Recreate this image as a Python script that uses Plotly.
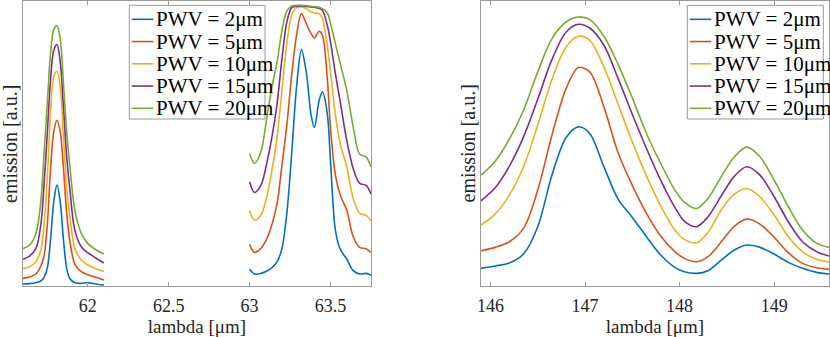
import plotly.graph_objects as go

# PWV cases and MATLAB default line colours
pwv = ["2", "5", "10", "15", "20"]
colors = ["#0072BD", "#D95319", "#EDB120", "#7E2F8E", "#77AC30"]

# left panel, first line (around 61.8 um)
lam_a = [61.60, 61.64, 61.68, 61.71, 61.73, 61.75, 61.77, 61.79, 61.81, 61.83,
         61.85, 61.87, 61.89, 61.92, 61.96, 62.00, 62.05, 62.10]
em_a = [
    [0.8, 0.9, 1.2, 1.7, 2.8, 5.5, 14.0, 25.5, 30.5, 25.5, 14.0, 5.5, 2.4, 1.2, 1.0, 1.2, 0.8, 0.5],
    [2.5, 2.9, 3.8, 6.2, 9.2, 18.5, 35.0, 46.5, 50.0, 46.5, 35.5, 22.0, 13.5, 6.8, 4.5, 3.6, 2.8, 2.0],
    [5.4, 6.0, 7.5, 11.0, 18.5, 32.5, 52.5, 63.0, 64.7, 60.0, 45.0, 29.5, 21.0, 11.5, 8.0, 6.5, 5.4, 4.6],
    [8.2, 9.2, 11.5, 18.5, 30.5, 46.0, 62.0, 71.0, 72.7, 67.5, 54.0, 39.0, 29.0, 17.0, 12.0, 10.2, 8.6, 7.1],
    [11.4, 12.5, 16.0, 25.5, 40.0, 55.0, 70.0, 77.2, 78.4, 74.5, 61.0, 46.5, 36.0, 23.0, 16.0, 13.0, 11.1, 9.8],
]

# left panel, second line (around 63.3 um)
lam_b = [63.00, 63.03, 63.07, 63.11, 63.14, 63.17, 63.20, 63.23, 63.26, 63.29,
         63.32, 63.35, 63.38, 63.40, 63.43, 63.45, 63.48, 63.50, 63.53, 63.56,
         63.60, 63.64, 63.68, 63.72, 63.75]
em_b = [
    [5.2, 3.8, 4.0, 4.8, 5.8, 7.5, 11.5, 22.0, 40.0, 60.0, 71.2, 64.5, 51.5, 47.8, 56.0,
     58.5, 52.0, 37.5, 17.0, 11.2, 8.3, 4.8, 3.8, 4.0, 3.5],
    [12.7, 10.3, 11.5, 14.8, 19.0, 25.0, 36.5, 48.5, 63.5, 75.5, 82.0, 79.0, 76.0, 74.7, 76.7,
     75.5, 62.5, 47.5, 33.5, 27.5, 23.0, 15.0, 11.8, 11.4, 10.2],
    [22.8, 20.0, 21.5, 27.8, 35.5, 45.0, 59.0, 73.0, 81.5, 83.8, 84.0, 83.5, 82.5, 82.2, 82.0,
     80.5, 72.5, 64.5, 51.5, 43.0, 36.0, 26.5, 22.0, 21.4, 19.8],
    [31.5, 28.3, 30.5, 38.0, 45.5, 55.0, 68.5, 79.5, 83.8, 84.2, 84.3, 84.2, 84.0, 83.9, 83.6,
     83.0, 78.5, 73.5, 64.0, 55.5, 44.0, 35.5, 31.0, 30.4, 27.8],
    [40.0, 37.0, 40.5, 52.0, 60.5, 67.5, 77.0, 82.8, 84.3, 84.5, 84.5, 84.4, 84.2, 84.1, 83.9,
     83.5, 82.2, 79.0, 73.0, 67.0, 59.0, 48.0, 39.8, 39.0, 36.0],
]

# right panel (146-149.6 um)
lam_c = [145.90, 146.05, 146.20, 146.35, 146.50, 146.65, 146.80, 146.93, 147.05, 147.20,
         147.35, 147.50, 147.65, 147.80, 147.95, 148.05, 148.18, 148.30, 148.45, 148.58,
         148.71, 148.85, 149.00, 149.15, 149.30, 149.45, 149.58]
em_c = [
    [5.5, 6.2, 7.1, 9.8, 18.0, 33.5, 44.8, 48.0, 46.0, 36.0, 26.3, 20.8, 15.0, 9.5, 5.8,
     4.5, 4.0, 4.8, 8.2, 11.0, 12.5, 11.8, 9.8, 7.3, 5.5, 4.3, 3.8],
    [10.8, 11.8, 13.5, 17.5, 29.0, 45.5, 59.5, 65.8, 64.5, 54.0, 40.2, 30.4, 22.0, 15.2, 10.5,
     8.5, 7.5, 9.0, 13.8, 18.2, 20.3, 18.8, 14.8, 10.2, 7.0, 5.7, 5.2],
    [18.5, 21.8, 27.5, 36.0, 48.5, 62.2, 72.0, 75.2, 74.0, 66.0, 54.8, 43.5, 33.3, 24.3, 17.0,
     14.2, 13.2, 16.3, 23.5, 27.8, 29.5, 27.0, 21.5, 15.0, 10.5, 8.2, 7.4],
    [25.8, 29.7, 36.2, 45.0, 56.3, 68.2, 76.5, 78.8, 77.7, 72.5, 62.5, 51.8, 41.5, 32.0, 23.8,
     19.7, 18.0, 21.0, 27.7, 33.2, 36.0, 33.5, 27.0, 19.5, 13.5, 10.5, 9.2],
    [33.5, 37.7, 44.3, 53.0, 64.5, 74.5, 79.5, 81.0, 80.2, 75.2, 66.7, 56.7, 46.0, 37.0, 29.0,
     25.4, 23.5, 26.5, 33.5, 39.0, 41.9, 39.0, 32.0, 24.0, 17.0, 13.0, 11.8],
]

W, H = 830, 337
FONT = "Liberation Serif, Times New Roman, DejaVu Serif, serif"
GRAY = "#9a9a9a"
TXT = "#262626"

fig = go.Figure()

for i in range(len(pwv)):
    fig.add_trace(go.Scatter(
        x=lam_a + [None] + lam_b,
        y=em_a[i] + [None] + em_b[i],
        mode="lines", name="PWV = " + pwv[i] + "μm", connectgaps=False, showlegend=False,
        line=dict(color=colors[i], width=1.6, shape="spline", smoothing=0.9),
        xaxis="x", yaxis="y",
    ))
for i in range(len(pwv)):
    fig.add_trace(go.Scatter(
        x=lam_c, y=em_c[i],
        mode="lines", name="PWV = " + pwv[i] + "μm", showlegend=False,
        line=dict(color=colors[i], width=1.6, shape="spline", smoothing=0.9),
        xaxis="x2", yaxis="y2",
    ))

xcommon = dict(showline=True, linecolor=GRAY, linewidth=1, mirror="ticks",
               ticks="inside", ticklen=4, tickcolor=GRAY, showgrid=False, zeroline=False,
               ticklabelstandoff=3, automargin=False,
               tickfont=dict(family=FONT, size=18, color=TXT),
               title=dict(text="lambda [μm]", font=dict(family=FONT, size=19, color=TXT), standoff=3))
ycommon = dict(showline=True, linecolor=GRAY, linewidth=1, mirror=True, automargin=False,
               ticks="", showticklabels=False, showgrid=False, zeroline=False,
               range=[0.2, 85.8], domain=[1 - 286 / H, 1 - 1 / H])

# hand-drawn MATLAB-style legend boxes (one per panel)
shapes = []
annotations = []
for box_l, box_r in [(129.3, 265.0), (687.3, 823.3)]:
    shapes.append(dict(type="rect", xref="paper", yref="paper", layer="above",
                       x0=box_l / W, x1=box_r / W, y0=1 - 119 / H, y1=1 - 5.3 / H,
                       line=dict(color=GRAY, width=1), fillcolor="white"))
    for i in range(len(pwv)):
        yy = 1 - (19.3 + 22.25 * i) / H
        shapes.append(dict(type="line", xref="paper", yref="paper", layer="above",
                           x0=(box_l + 2.5) / W, x1=(box_l + 24) / W, y0=yy, y1=yy,
                           line=dict(color=colors[i], width=1.6)))
        annotations.append(dict(text="PWV = " + pwv[i] + "μm", xref="paper", yref="paper",
                                x=(box_l + 24.5) / W, y=yy, xanchor="left", yanchor="middle",
                                showarrow=False, font=dict(family=FONT, size=21, color="black")))

for xc in [10, 467.5]:
    annotations.append(dict(text="emission [a.u.]", x=xc / W, y=1 - 144 / H, xref="paper", yref="paper",
                            textangle=-90, showarrow=False, xanchor="center", yanchor="middle",
                            font=dict(family=FONT, size=20, color=TXT)))

fig.update_layout(
    width=W, height=H,
    margin=dict(l=0, r=0, t=0, b=0, autoexpand=False),
    paper_bgcolor="white", plot_bgcolor="white",
    xaxis=dict(domain=[23 / W, 371 / W], range=[61.6, 63.75], dtick=0.5, tick0=62, **xcommon),
    yaxis=dict(anchor="x", **ycommon),
    xaxis2=dict(domain=[481 / W, 829 / W], range=[145.9, 149.58], dtick=1, tick0=146, **xcommon),
    yaxis2=dict(anchor="x2", **ycommon),
    shapes=shapes,
    annotations=annotations,
)

fig.write_html("out.html", config={"displayModeBar": False},
               post_script="document.body.style.margin='0px';")
